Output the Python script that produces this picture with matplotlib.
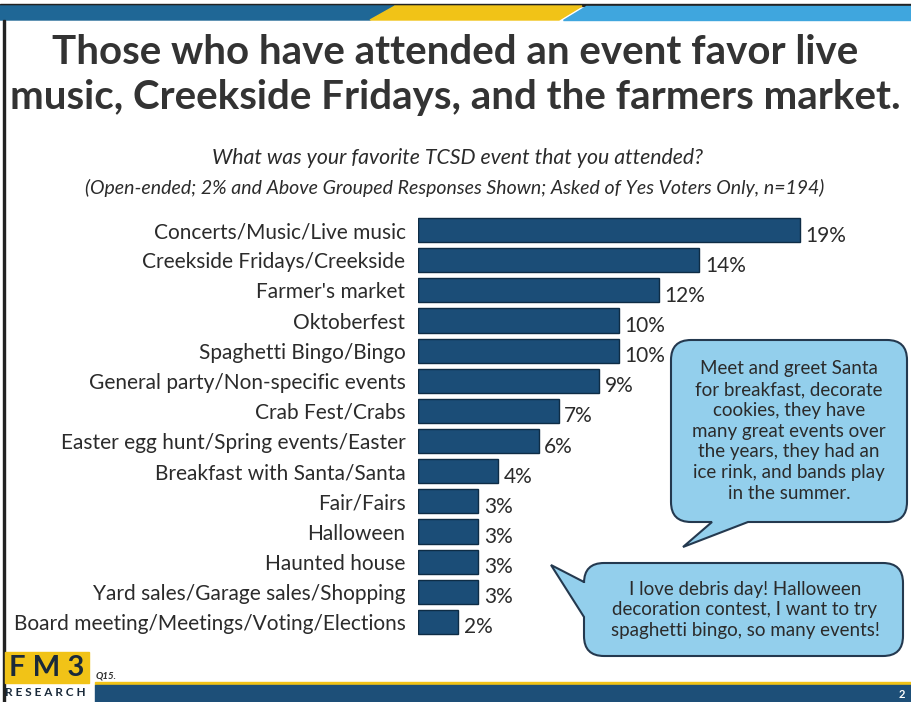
import matplotlib.pyplot as plt
import matplotlib.transforms as mtransforms
from matplotlib.path import Path
from matplotlib.patches import PathPatch, Polygon, Rectangle

# survey data
events = ['Concerts/Music/Live music', 'Creekside Fridays/Creekside', "Farmer's market",
          'Oktoberfest', 'Spaghetti Bingo/Bingo', 'General party/Non-specific events',
          'Crab Fest/Crabs', 'Easter egg hunt/Spring events/Easter', 'Breakfast with Santa/Santa',
          'Fair/Fairs', 'Halloween', 'Haunted house', 'Yard sales/Garage sales/Shopping',
          'Board meeting/Meetings/Voting/Elections']
pct = [19, 14, 12, 10, 10, 9, 7, 6, 4, 3, 3, 3, 3, 2]

title = 'Those who have attended an event favor live\nmusic, Creekside Fridays, and the farmers market.'
question = 'What was your favorite TCSD event that you attended?'
note = '(Open-ended; 2% and Above Grouped Responses Shown; Asked of Yes Voters Only, n=194)'
quote1 = ('Meet and greet Santa\nfor breakfast, decorate\ncookies, they have\n'
          'many great events over\nthe years, they had an\nice rink, and bands play\nin the summer.')
quote2 = 'I love debris day! Halloween\ndecoration contest, I want to try\nspaghetti bingo, so many events!'

W, H = 911, 702
BAR = '#1b4d77'
BUBBLE = '#93cfec'
TXT = '#2b2b2b'
FONT = ['Lato', 'DejaVu Sans']

fig = plt.figure(figsize=(W / 100, H / 100), dpi=100)
# pixel coordinates, origin top-left
px = mtransforms.Affine2D().scale(1 / W, -1 / H).translate(0, 1) + fig.transFigure

# header / footer bands
fig.patches.append(Rectangle((0, 4), W, 2, color='#222222', transform=px))
fig.patches.append(Polygon([(0, 6), (395, 6), (370, 20), (0, 20)], color='#1f6796', transform=px))
fig.patches.append(Polygon([(395, 6), (582, 6), (559, 20), (370, 20)], color='#f1c317', transform=px))
fig.patches.append(Polygon([(586, 6), (W, 6), (W, 20), (563, 20)], color='#3fa6de', transform=px))
fig.patches.append(Rectangle((3, 20), 2, H - 20, color='#222222', transform=px))
fig.patches.append(Rectangle((95, 682), W - 95, 3, color='#f1c317', transform=px))
fig.patches.append(Rectangle((95, 685), W - 95, 17, color='#1d4f78', transform=px))
fig.text(905 / W, 1 - 694 / H, '2', color='white', fontsize=8, fontweight='bold',
         ha='right', va='center', family=FONT)

# logo
fig.patches.append(Rectangle((5, 652), 84, 31, color='#f1c317', transform=px))
fig.text(9 / W, 1 - 668 / H, 'F M 3', fontsize=21, fontweight='bold', color='#1a2a3a',
         va='center', family=FONT)
fig.text(5 / W, 1 - 693 / H, 'R E S E A R C H', fontsize=8.5, fontweight='bold', color='#1a2a3a',
         va='center', family=FONT)
fig.text(96 / W, 1 - 676 / H, 'Q15.', fontsize=7, fontstyle='italic', fontweight='bold',
         color=TXT, va='center', family=FONT)

# titles
fig.text(0.5, 1 - 75 / H, title, ha='center', va='center', fontsize=29, fontweight='bold',
         color='#333333', linespacing=1.25, family=FONT)
fig.text(458 / W, 1 - 158 / H, question, ha='center', va='center', fontsize=15.3,
         fontstyle='italic', color=TXT, family=FONT)
fig.text(455 / W, 1 - 188 / H, note, ha='center', va='center', fontsize=14,
         fontstyle='italic', color=TXT, family=FONT)

# bar chart
ax = fig.add_axes([418 / W, 1 - 637 / H, (W - 418) / W, 422 / H])
y = list(range(len(events)))
ax.barh(y, pct, height=0.8, color=BAR, edgecolor='#0e2c45', linewidth=1)
ax.set_xlim(0, (W - 418) / 20.1)
ax.set_ylim(len(events) - 0.5, -0.5)
ax.set_yticks(y)
ax.set_yticklabels(events, fontsize=15, color=TXT, family=FONT)
ax.tick_params(axis='y', length=0, pad=9)
ax.set_xticks([])
for s in ax.spines.values():
    s.set_visible(False)
ax.patch.set_alpha(0)
for yi, v in zip(y, pct):
    ax.annotate(f'{v}%', (v, yi), xytext=(4, -4), textcoords='offset points', va='center',
                fontsize=15, color=TXT, family=FONT)


def bubble(x0, y0, x1, y1, r, side, a, b, tip):
    # rounded box with a tail on the bottom or left side, pixel coords
    M, L, C = Path.MOVETO, Path.LINETO, Path.CURVE3
    v = [(x0 + r, y0), (x1 - r, y0), (x1, y0), (x1, y0 + r), (x1, y1 - r), (x1, y1), (x1 - r, y1)]
    c = [M, L, C, C, L, C, C]
    if side == 'bottom':
        v += [(b, y1), tip, (a, y1)]
        c += [L, L, L]
    v += [(x0 + r, y1), (x0, y1), (x0, y1 - r)]
    c += [L, C, C]
    if side == 'left':
        v += [(x0, b), tip, (x0, a)]
        c += [L, L, L]
    v += [(x0, y0 + r), (x0, y0), (x0 + r, y0), (x0 + r, y0)]
    c += [L, C, C, Path.CLOSEPOLY]
    fig.patches.append(PathPatch(Path(v, c), facecolor=BUBBLE, edgecolor='#24394f',
                                 linewidth=1.5, transform=px))


bubble(671, 340, 907, 522, 20, 'bottom', 712, 748, (683, 547))
fig.text(789 / W, 1 - 431 / H, quote1, ha='center', va='center', fontsize=13.5, color=TXT,
         linespacing=1.27, family=FONT)
bubble(584, 563, 903, 656, 20, 'left', 582, 617, (551, 565))
fig.text(745 / W, 1 - 610 / H, quote2, ha='center', va='center', fontsize=13.5, color=TXT,
         linespacing=1.27, family=FONT)

fig.savefig('out.png', dpi=100)
